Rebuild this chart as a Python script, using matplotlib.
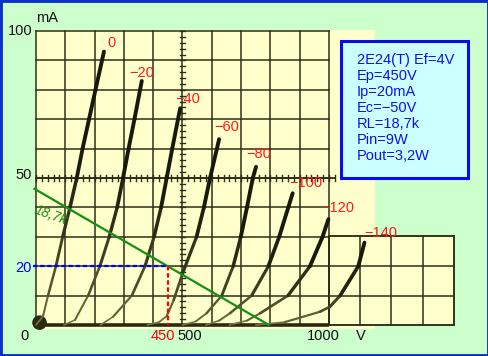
import matplotlib
matplotlib.use("Agg")
import matplotlib.pyplot as plt
import numpy as np
from matplotlib.patches import Rectangle

plt.rcParams['font.family'] = ['Liberation Sans', 'DejaVu Sans']

# ---- data (plate voltage V, plate current mA) ----
grid_labels = ["0", "−20", "−40", "−60", "−80", "−100", "−120", "−140"]
c0_v = [0, 12, 24, 41, 68, 91, 116, 139, 159, 181, 203, 232]
c0_i = [0, 1.5, 3, 10, 20, 30, 40, 50, 60, 70, 80, 93]
c20_v = [95, 133, 178, 218, 250, 277, 297, 316, 336, 361]
c20_i = [0, 1.7, 10, 20, 30, 40, 50, 60, 70, 83]
c40_v = [220, 263, 327, 372, 403, 427, 446, 465, 492]
c40_i = [0, 2.8, 10, 20, 30, 40, 50, 60, 73.7]
c60_v = [380, 420, 446, 470, 500, 548, 573, 594, 625]
c60_i = [0, 1, 3, 8.5, 17.5, 30, 40, 50, 63.2]
c80_v = [500, 545, 582, 634, 673, 699, 720, 740, 751]
c80_i = [0, 1.2, 4, 10, 20, 30, 40, 50, 53.8]
c100_v = [580, 625, 662, 736, 793, 830, 861, 876]
c100_i = [0, 1.5, 4, 10, 20, 30, 40, 44.8]
c120_v = [660, 720, 765, 860, 935, 978, 998]
c120_i = [0, 1.5, 4, 10, 20, 30, 36]
c140_v = [750, 850, 969, 1003, 1038, 1100, 1121]
c140_i = [0, 1, 4.5, 6.2, 10, 20, 28]
curves_v = [c0_v, c20_v, c40_v, c60_v, c80_v, c100_v, c120_v, c140_v]
curves_i = [c0_i, c20_i, c40_i, c60_i, c80_i, c100_i, c120_i, c140_i]

load_v = [-5, 795]
load_i = [46.3, 0]
op_v = 450
op_i = 20
info_lines = ["2E24(T) Ef=4V", "Ep=450V", "Ip=20mA", "Ec=−50V",
              "RL=18,7k", "Pin=9W", "Pout=3,2W"]

# ---- pixel mapping helpers (layout) ----
X0, SX = 36.0, 0.293
Y0, SY = 325.0, 2.94
def dx(px):
    return (px - X0) / SX
def dy(py):
    return (Y0 - py) / SY

fig = plt.figure(figsize=(4.89, 3.56), dpi=100, facecolor='#ccffcc')
ax = fig.add_axes([0, 0, 1, 1])
ax.set_xlim(dx(0), dx(489))
ax.set_ylim(dy(356), dy(0))
ax.axis('off')

cream = '#ffffcc'
gridc = '#2e2e16'
# cream regions
ax.add_patch(Rectangle((dx(35), dy(329)), dx(375) - dx(35), dy(30) - dy(329),
                       facecolor=cream, edgecolor='none', zorder=0))
ax.add_patch(Rectangle((dx(329), dy(325)), dx(454) - dx(329), dy(236) - dy(325),
                       facecolor=cream, edgecolor=gridc, lw=1.1, zorder=1))

# main grid
for v in range(0, 1001, 100):
    ax.plot([v, v], [0, 100], color=gridc, lw=1.1, zorder=1)
for i in range(0, 101, 10):
    ax.plot([0, 1000], [i, i], color=gridc, lw=1.1, zorder=1)
# axes with ticks
ax.plot([0, 1020], [50, 50], color=gridc, lw=1.3, zorder=1)
for v in range(0, 1021, 20):
    ax.plot([v, v], [50 - 0.9, 50 + 0.9], color=gridc, lw=1.0, zorder=1)
for i in range(0, 101, 2):
    ax.plot([500 - 9, 500 + 9], [i, i], color=gridc, lw=1.0, zorder=1)

# extension grid
for px in np.linspace(329, 454, 5):
    ax.plot([dx(px), dx(px)], [dy(325), dy(236)], color=gridc, lw=1.1, zorder=1)
for py in [236, 266, 296, 325]:
    ax.plot([dx(329), dx(454)], [dy(py), dy(py)], color=gridc, lw=1.1, zorder=1)

# baseline (zero current)
ax.plot([0, 1000], [0, 0], color='#2a2a12', lw=2.6, zorder=3, solid_capstyle='butt')
ax.scatter([12], [0.8], s=110, color='#2a2a12', zorder=3, marker='o', edgecolors='none')

# tube curves with thickness growing with current
dark = np.array([0.10, 0.10, 0.04])
light = np.array([0.50, 0.50, 0.30])
for vs, cs in zip(curves_v, curves_i):
    imax = max(cs)
    for k in range(len(vs) - 1):
        f = ((cs[k] + cs[k + 1]) / 2) / imax
        f = min(1.0, f * 1.6) ** 0.6
        col = light + (dark - light) * f
        ax.plot(vs[k:k + 2], cs[k:k + 2], color=col, lw=1.0 + 1.8 * f,
                solid_capstyle='round', zorder=4)

# curve labels
label_px = [(112, 43), (142, 73), (188, 99), (227, 127), (259, 154),
            (306, 183), (338, 208), (381, 233)]
for lab, (px, py) in zip(grid_labels, label_px):
    ax.text(dx(px), dy(py), lab, color='#ff1a1a', fontsize=10.5,
            ha='center', va='center', zorder=6)

# load line
ax.plot(load_v, load_i, color='#129012', lw=1.6, zorder=5)
ax.text(dx(51), dy(215), "18,7k", color='#129012', fontsize=10, style='italic',
        rotation=-20, ha='center', va='center', zorder=6)

# operating point dashed lines
ax.plot([dx(33), op_v], [op_i, op_i], color='#0000ff', lw=1.6, ls=(0, (2.0, 1.2)), zorder=5)
ax.plot([op_v, op_v], [op_i, 0], color='#ff0000', lw=1.6, ls=(0, (2.0, 1.2)), zorder=5)

# axis text
tc = '#111111'
ax.text(dx(36), dy(18), "mA", color=tc, fontsize=10.5, ha='left', va='center')
ax.text(dx(33), dy(31), "100", color=tc, fontsize=10.5, ha='right', va='center')
ax.text(dx(32), dy(175), "50", color=tc, fontsize=10.5, ha='right', va='center')
ax.text(dx(32), dy(268), "20", color='#0000ff', fontsize=10.5, ha='right', va='center')
ax.text(dx(24.5), dy(336), "0", color=tc, fontsize=10.5, ha='center', va='center')
ax.text(dx(163), dy(336), "450", color='#ff0000', fontsize=10.5, ha='center', va='center')
ax.text(dx(189.5), dy(336), "500", color=tc, fontsize=10.5, ha='center', va='center')
ax.text(dx(323), dy(336), "1000", color=tc, fontsize=10.5, ha='center', va='center')
ax.text(dx(360.5), dy(336), "V", color=tc, fontsize=10.5, ha='center', va='center')

# info box
ax.add_patch(Rectangle((dx(341), dy(178)), dx(468) - dx(341), dy(41) - dy(178),
                       facecolor='#ccffff', edgecolor='#0a0af0', lw=2.2, zorder=7))
for k, line in enumerate(info_lines):
    ax.text(dx(357), dy(60 + k * 16), line, color='#1010ee', fontsize=10.5,
            ha='left', va='center', zorder=8)

# outer border
fig.patches.append(Rectangle((0, 0), 1, 1, transform=fig.transFigure, fill=False,
                             edgecolor='#0a32c8', lw=3.5, zorder=10))

fig.savefig("out.png", dpi=100, facecolor=fig.get_facecolor())
